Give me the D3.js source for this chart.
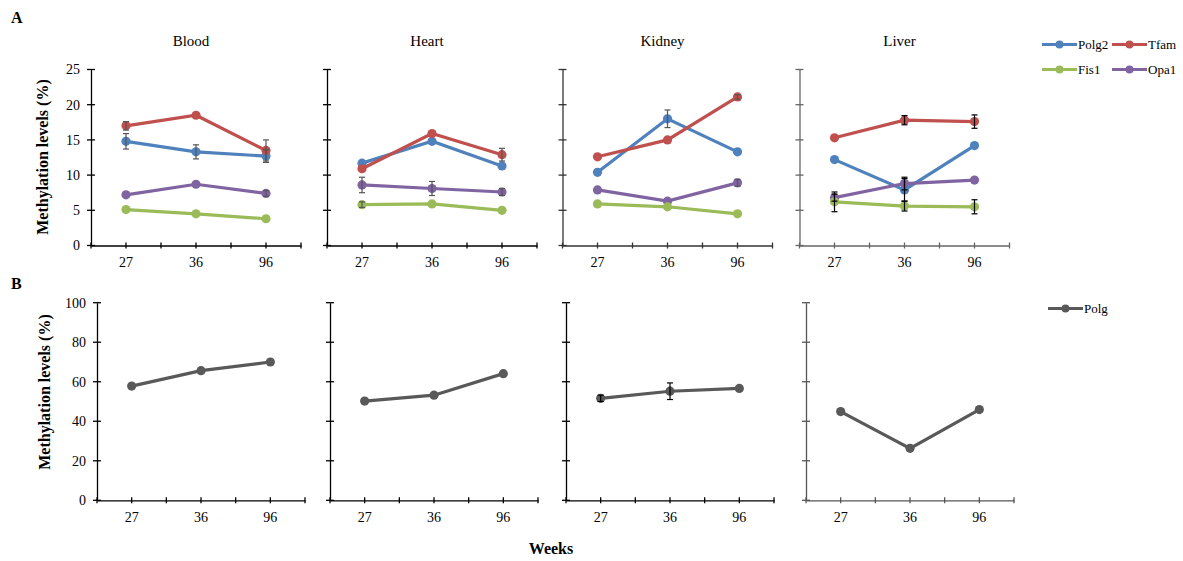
<!DOCTYPE html>
<html>
<head>
<meta charset="utf-8">
<script src="https://cdn.jsdelivr.net/npm/d3@7"></script>
<style>
  body { margin: 0; background: #fff; }
  svg text { font-family: "Times New Roman", "Liberation Serif", "DejaVu Serif", serif; fill: #000; }
</style>
</head>
<body>
<div id="vis"></div>
<script>
// methylation levels by tissue and age (weeks)

const weeks = ["27", "36", "96"];
const tissues = ["Blood", "Heart", "Kidney", "Liver"];
const genesA = ["Polg2", "Tfam", "Fis1", "Opa1"];
const yTicksA = [0, 5, 10, 15, 20, 25];
const yTicksB = [0, 20, 40, 60, 80, 100];

// one row per tissue, one value per week (0 = error bar hidden behind marker)
const polg2 = [[14.8, 13.3, 12.7], [11.7, 14.8, 11.3], [10.4, 18.0, 13.3], [12.2, 7.9, 14.2]];
const polg2Err = [[1.1, 1.0, 0.9], [0, 0, 0], [0, 1.25, 0], [0, 1.6, 0]];
const tfam = [[17.0, 18.5, 13.5], [10.9, 15.9, 12.9], [12.6, 15.0, 21.1], [15.3, 17.8, 17.6]];
const tfamErr = [[0.6, 0, 1.5], [0, 0, 0.9], [0, 0, 0.3], [0, 0.65, 0.95]];
const fis1 = [[5.1, 4.5, 3.8], [5.8, 5.9, 5.0], [5.9, 5.5, 4.5], [6.2, 5.6, 5.5]];
const fis1Err = [[0, 0, 0], [0.4, 0, 0], [0, 0, 0], [1.4, 0.7, 1.0]];
const opa1 = [[7.2, 8.7, 7.4], [8.6, 8.1, 7.6], [7.9, 6.3, 8.9], [6.8, 8.8, 9.3]];
const opa1Err = [[0, 0, 0.4], [1.1, 1.0, 0.5], [0, 0, 0.5], [0.5, 0.9, 0]];
const polg = [[57.8, 65.6, 70.0], [50.2, 53.2, 64.1], [51.6, 55.2, 56.6], [44.9, 26.3, 45.9]];
const polgErr = [[0, 0, 0], [0, 0, 0], [1.6, 4.2, 0], [0, 0, 0]];

const colors = {Polg2: "#4f81bd", Tfam: "#c0504d", Fis1: "#9bbb59", Opa1: "#8064a2", Polg: "#595959"};
const seriesA = [
    {name: "Polg2", values: polg2, err: polg2Err},
    {name: "Tfam", values: tfam, err: tfamErr},
    {name: "Opa1", values: opa1, err: opa1Err},
    {name: "Fis1", values: fis1, err: fis1Err}
];

const width = 1183, height = 561;
const panelA = {lefts: [91, 327, 562.5, 799.5], width: 210, top: 69.5, bottom: 245.5};
const panelB = {lefts: [97, 330, 566, 806], width: 208, top: 302.7, bottom: 500.3};
const axisColorsA = ["#000", "#000", "#333", "#666"];
const axisColorsB = ["#000", "#000", "#000", "#555"];
const errColorsA = ["#555", "#555", "#555", "#000"];
const serif = "'Times New Roman', 'Liberation Serif', serif";

const svg = d3.select("#vis").append("svg").attr("width", width).attr("height", height);

function drawPanel(p, i, yDomain, yTicks, series, showLabels, axisColor, errColor) {
    const left = p.lefts[i];
    const x = d3.scaleBand().domain(weeks).range([left, left + p.width]);
    const xb = d3.scaleLinear().domain([0, 3]).range([left, left + p.width]);
    const y = d3.scaleLinear().domain(yDomain).range([p.bottom, p.top]);
    const cx = d => x(d) + x.bandwidth() / 2;
    const g = svg.append("g").attr("class", "panel");

    // x axis: ticks at category centres and band edges
    const xAxisG = g.append("g").attr("transform", `translate(0,${p.bottom})`)
        .call(d3.axisBottom(x).tickSize(0).tickPadding(12));
    xAxisG.attr("font-family", serif);
    xAxisG.selectAll("text").style("font-size", "14px");
    xAxisG.select(".domain").attr("stroke", axisColor).attr("stroke-width", 1.3);
    g.selectAll("line.xtick").data(weeks.map(cx).concat(d3.range(0, 4).map(xb)))
        .enter().append("line").attr("class", "xtick")
        .attr("x1", d => d).attr("x2", d => d)
        .attr("y1", p.bottom - 3).attr("y2", p.bottom + 3)
        .attr("stroke", axisColor).attr("stroke-width", 1.3);

    // y axis
    const yAxisG = g.append("g").attr("transform", `translate(${left},0)`)
        .call(d3.axisLeft(y).tickValues(yTicks).tickSize(0).tickPadding(11)
            .tickFormat(showLabels ? d3.format("d") : ""));
    yAxisG.attr("font-family", serif);
    yAxisG.selectAll("text").style("font-size", "14px");
    yAxisG.select(".domain").attr("stroke", axisColor).attr("stroke-width", 1.3);
    g.selectAll("line.ytick").data(yTicks).enter().append("line").attr("class", "ytick")
        .attr("x1", left - 4).attr("x2", left + 4)
        .attr("y1", d => y(d)).attr("y2", d => y(d))
        .attr("stroke", axisColor).attr("stroke-width", 1.3);

    const line = d3.line().x(d => cx(d.week)).y(d => y(d.v));

    series.forEach(s => {
        const pts = weeks.map((w, j) => ({week: w, v: s.values[i][j], e: s.err[i][j]}));
        g.append("path").datum(pts).attr("d", line)
            .attr("fill", "none").attr("stroke", colors[s.name]).attr("stroke-width", 3.2);
        g.selectAll(null).data(pts).enter().append("circle")
            .attr("cx", d => cx(d.week)).attr("cy", d => y(d.v)).attr("r", 4.6)
            .attr("fill", colors[s.name]);
    });

    // error bars on top
    series.forEach(s => {
        const pts = weeks.map((w, j) => ({week: w, v: s.values[i][j], e: s.err[i][j]}))
            .filter(d => d.e > 0);
        const eb = g.selectAll(null).data(pts).enter().append("g")
            .attr("stroke", errColor).attr("stroke-width", 1.2);
        eb.append("line").attr("x1", d => cx(d.week)).attr("x2", d => cx(d.week))
            .attr("y1", d => y(d.v - d.e)).attr("y2", d => y(d.v + d.e));
        eb.append("line").attr("x1", d => cx(d.week) - 3).attr("x2", d => cx(d.week) + 3)
            .attr("y1", d => y(d.v - d.e)).attr("y2", d => y(d.v - d.e));
        eb.append("line").attr("x1", d => cx(d.week) - 3).attr("x2", d => cx(d.week) + 3)
            .attr("y1", d => y(d.v + d.e)).attr("y2", d => y(d.v + d.e));
    });
}

tissues.forEach((t, i) => {
    drawPanel(panelA, i, [0, 25], yTicksA, seriesA, i === 0, axisColorsA[i], errColorsA[i]);
    drawPanel(panelB, i, [0, 100], yTicksB, [{name: "Polg", values: polg, err: polgErr}], i === 0, axisColorsB[i], "#000");
    svg.append("text").attr("x", panelA.lefts[i] + panelA.width / 2 - 5).attr("y", 46)
        .attr("text-anchor", "middle").style("font-size", "15px").text(t);
});

// panel letters and axis titles
svg.append("text").attr("x", 11).attr("y", 23).style("font-size", "16px").style("font-weight", "bold").text("A");
svg.append("text").attr("x", 11).attr("y", 289).style("font-size", "16px").style("font-weight", "bold").text("B");
svg.append("text").attr("transform", "translate(48,157) rotate(-90)").attr("text-anchor", "middle")
    .style("font-size", "16px").style("font-weight", "bold").text("Methylation levels (%)");
svg.append("text").attr("transform", "translate(50,392) rotate(-90)").attr("text-anchor", "middle")
    .style("font-size", "16px").style("font-weight", "bold").text("Methylation levels (%)");
svg.append("text").attr("x", 551).attr("y", 554).attr("text-anchor", "middle")
    .style("font-size", "16px").style("font-weight", "bold").text("Weeks");

// legends
function legendItem(x0, y0, name) {
    const lg = svg.append("g").attr("class", "legend");
    lg.append("line").attr("x1", x0).attr("x2", x0 + 35).attr("y1", y0).attr("y2", y0)
        .attr("stroke", colors[name]).attr("stroke-width", 3.2);
    lg.append("circle").attr("cx", x0 + 17.5).attr("cy", y0).attr("r", 4).attr("fill", colors[name]);
    lg.append("text").attr("x", x0 + 36).attr("y", y0 + 4.5).style("font-size", "13px").text(name);
}
const legendPosA = [[1042, 44.5], [1112, 44.5], [1042, 69.5], [1112, 69.5]];
genesA.forEach((name, k) => legendItem(legendPosA[k][0], legendPosA[k][1], name));
legendItem(1048, 308.5, "Polg");
</script>
</body>
</html>
